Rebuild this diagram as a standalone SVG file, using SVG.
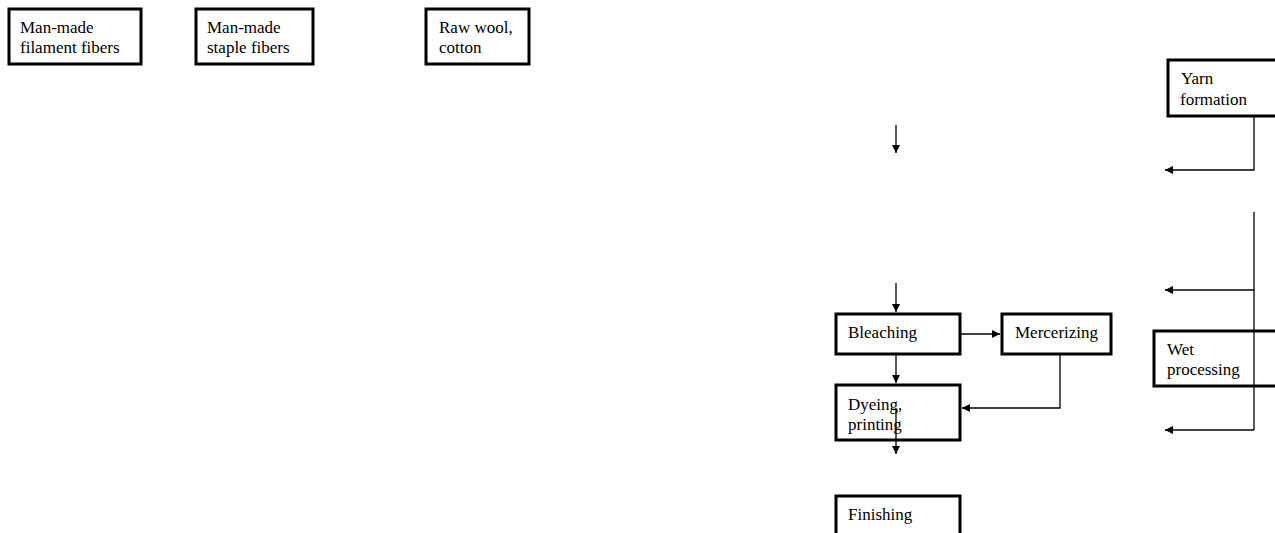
<svg xmlns="http://www.w3.org/2000/svg" width="1275" height="533" viewBox="0 0 1275 533">
<style>
rect.n{fill:#fff;stroke:#000;stroke-width:3}
text{font-family:"Liberation Serif","Times New Roman",serif;font-size:17px;fill:#000}
.c path{fill:none;stroke:#000;stroke-width:1.3}
</style>
<defs>
<marker id="ah" viewBox="0 0 10 10" refX="10" refY="5" markerWidth="8" markerHeight="8" markerUnits="userSpaceOnUse" orient="auto">
<path d="M0,0 L10,5 L0,10 z" fill="#000"/>
</marker>
</defs>
<rect width="1275" height="533" fill="#fff"/>
<g id="n1"><rect class="n" x="9" y="9" width="132" height="55"/><text x="20" y="33">Man-made</text><text x="20" y="53">filament fibers</text></g>
<g id="n2"><rect class="n" x="196" y="9" width="117" height="55"/><text x="207" y="33">Man-made</text><text x="207" y="53">staple fibers</text></g>
<g id="n3"><rect class="n" x="426" y="9" width="103" height="55"/><text x="439" y="33">Raw wool,</text><text x="439" y="53">cotton</text></g>
<g id="n4"><rect class="n" x="1168" y="60" width="120" height="56"/><text x="1181" y="84">Yarn</text><text x="1180" y="105">formation</text></g>
<g id="n5"><rect class="n" x="1154" y="331" width="130" height="55"/><text x="1167" y="355">Wet</text><text x="1167" y="375">processing</text></g>
<g id="n6"><rect class="n" x="836" y="314" width="124" height="40"/><text x="848" y="338">Bleaching</text></g>
<g id="n7"><rect class="n" x="1002" y="314" width="109" height="40"/><text x="1015" y="338">Mercerizing</text></g>
<g id="n8"><rect class="n" x="836" y="385" width="124" height="55"/><text x="848" y="410">Dyeing,</text><text x="848" y="430">printing</text></g>
<g id="n9"><rect class="n" x="836" y="496" width="124" height="50"/><text x="848" y="520">Finishing</text></g>
<g class="c" id="connectors">
<path d="M1254,116 V170 H1165" marker-end="url(#ah)"/>
<path d="M896,125 V153" marker-end="url(#ah)"/>
<path d="M1254,212 V430"/>
<path d="M1254,290 H1165" marker-end="url(#ah)"/>
<path d="M1254,430 H1165" marker-end="url(#ah)"/>
<path d="M896,283 V312" marker-end="url(#ah)"/>
<path d="M960,334 H1000" marker-end="url(#ah)"/>
<path d="M896,354 V383" marker-end="url(#ah)"/>
<path d="M1060,354 V408 H962" marker-end="url(#ah)"/>
<path d="M896,408 V454" marker-end="url(#ah)"/>
</g>
</svg>
